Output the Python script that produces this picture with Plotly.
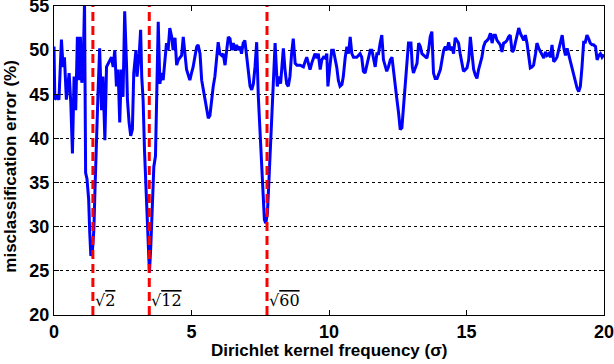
import plotly.graph_objects as go

# misclassification error vs Dirichlet kernel frequency
sigma = [
    0.00, 0.03, 0.11, 0.18, 0.27, 0.33, 0.38, 0.45, 0.55, 0.61, 0.67, 0.73, 0.79, 0.85, 0.91, 0.96,
    1.01, 1.06, 1.11, 1.15, 1.20, 1.26, 1.30, 1.34, 1.40, 1.45, 1.49, 1.54, 1.60, 1.66, 1.73, 1.78,
    1.85, 1.91, 1.97, 2.03, 2.09, 2.15, 2.21, 2.27, 2.33, 2.39, 2.45, 2.51, 2.57, 2.64, 2.67, 2.73,
    2.79, 2.85, 2.90, 2.98, 3.02, 3.10, 3.15, 3.19, 3.24, 3.29, 3.34, 3.39, 3.44, 3.47, 3.52, 3.57,
    3.63, 3.69, 3.75, 3.79, 3.85, 3.91, 3.97, 4.03, 4.09, 4.15, 4.21, 4.28, 4.33, 4.40, 4.46, 4.52,
    4.58, 4.64, 4.70, 4.76, 4.82, 4.88, 4.94, 5.00, 5.06, 5.12, 5.19, 5.24, 5.31, 5.37, 5.43, 5.49,
    5.55, 5.61, 5.67, 5.73, 5.79, 5.85, 5.91, 5.97, 6.03, 6.10, 6.15, 6.22, 6.28, 6.34, 6.40, 6.46,
    6.52, 6.58, 6.64, 6.70, 6.76, 6.82, 6.88, 6.94, 7.01, 7.07, 7.13, 7.19, 7.25, 7.31, 7.37, 7.43,
    7.49, 7.55, 7.61, 7.65, 7.70, 7.76, 7.82, 7.88, 7.94, 7.99, 8.04, 8.12, 8.19, 8.24, 8.34, 8.40,
    8.46, 8.52, 8.58, 8.64, 8.70, 8.77, 8.83, 8.95, 9.07, 9.13, 9.19, 9.25, 9.31, 9.37, 9.43, 9.49,
    9.56, 9.61, 9.68, 9.74, 9.80, 9.86, 9.92, 9.96, 10.02, 10.10, 10.16, 10.22, 10.28, 10.34, 10.40,
    10.47, 10.52, 10.59, 10.65, 10.71, 10.77, 10.83, 10.89, 11.01, 11.13, 11.19, 11.25, 11.31, 11.38,
    11.43, 11.50, 11.56, 11.62, 11.68, 11.74, 11.80, 11.86, 11.92, 11.98, 12.04, 12.10, 12.16, 12.23,
    12.29, 12.35, 12.41, 12.47, 12.53, 12.59, 12.65, 12.71, 12.77, 12.83, 12.89, 12.92, 12.98, 13.03,
    13.07, 13.14, 13.20, 13.26, 13.32, 13.38, 13.44, 13.50, 13.56, 13.62, 13.68, 13.74, 13.80, 13.86,
    13.93, 13.98, 14.05, 14.11, 14.17, 14.23, 14.29, 14.35, 14.41, 14.47, 14.53, 14.59, 14.65, 14.71,
    14.77, 14.84, 14.89, 14.96, 15.02, 15.08, 15.14, 15.20, 15.26, 15.32, 15.38, 15.44, 15.50, 15.56,
    15.62, 15.68, 15.75, 15.80, 15.87, 15.93, 15.99, 16.05, 16.11, 16.17, 16.23, 16.29, 16.35, 16.41,
    16.47, 16.53, 16.59, 16.66, 16.72, 16.78, 16.84, 16.90, 16.96, 17.02, 17.08, 17.14, 17.20, 17.26,
    17.32, 17.38, 17.44, 17.51, 17.56, 17.63, 17.69, 17.75, 17.81, 17.87, 17.93, 17.99, 18.05, 18.11,
    18.17, 18.23, 18.29, 18.35, 18.42, 18.48, 18.54, 18.60, 18.66, 18.72, 18.78, 18.84, 18.90, 18.96,
    19.02, 19.08, 19.14, 19.20, 19.26, 19.32, 19.38, 19.44, 19.50, 19.57, 19.62, 19.69, 19.75, 19.81,
    19.87, 19.93, 20.00,
]
error = [
    50.4, 44.4, 44.7, 44.4, 51.2, 48.1, 49.2, 44.4, 47.4, 44.1, 38.3, 47.0, 43.2, 51.5, 46.6, 51.5,
    46.3, 48.1, 55.5, 36.1, 35.4, 33.1, 29.3, 26.7, 27.4, 29.7, 34.2, 40.6, 45.1, 50.2, 43.2, 47.0,
    39.8, 48.1, 48.5, 48.9, 49.2, 48.1, 50.0, 45.9, 47.8, 41.8, 47.8, 44.7, 54.4, 48.1, 44.4, 41.8,
    40.3, 41.0, 47.4, 50.0, 47.0, 49.6, 52.3, 47.0, 44.4, 38.7, 35.0, 31.2, 27.1, 24.8, 27.8, 33.1,
    36.8, 38.0, 46.0, 53.2, 46.2, 47.4, 46.6, 49.2, 50.8, 50.0, 52.5, 51.5, 50.0, 51.4, 48.3, 48.9,
    49.1, 49.4, 51.5, 49.6, 47.8, 47.2, 46.6, 47.4, 48.1, 49.2, 50.4, 50.6, 49.6, 46.6, 45.5, 44.7,
    43.2, 42.3, 42.6, 44.4, 45.9, 47.0, 49.2, 50.9, 49.6, 49.4, 49.6, 48.3, 50.0, 51.5, 51.3, 50.0,
    50.8, 50.0, 50.6, 50.0, 50.4, 49.6, 50.8, 51.1, 49.2, 47.4, 45.9, 45.5, 46.2, 48.1, 50.9, 44.7,
    41.0, 38.3, 33.1, 30.8, 30.4, 31.5, 35.5, 40.0, 45.0, 49.0, 50.8, 45.9, 47.0, 46.2, 50.2, 47.8,
    46.2, 45.9, 47.0, 49.6, 51.3, 48.5, 48.3, 48.3, 48.1, 48.7, 49.2, 48.5, 47.8, 48.5, 49.2, 49.6,
    49.1, 49.6, 47.8, 48.9, 49.2, 49.1, 49.6, 45.9, 47.8, 50.0, 50.0, 49.2, 48.1, 46.6, 45.9,
    46.1, 47.0, 49.2, 50.4, 49.6, 51.5, 49.6, 49.2, 49.2, 49.6, 49.2, 47.6, 47.4, 48.5,
    49.2, 50.0, 50.0, 48.9, 48.1, 49.6, 49.6, 50.8, 51.7, 48.9, 48.1, 47.6, 48.1, 48.9,
    49.2, 47.4, 45.5, 44.4, 42.9, 41.0, 41.2, 43.6, 46.2, 48.9, 50.8, 50.8, 50.8, 48.1,
    47.4, 48.0, 48.5, 50.8, 50.4, 49.6, 49.4, 49.2, 49.1, 50.0, 51.5, 52.1, 47.4, 46.8,
    46.8, 47.2, 47.8, 48.9, 50.0, 50.4, 50.0, 50.9, 50.0, 50.4, 49.6, 51.4, 51.1, 50.8,
    49.6, 48.1, 47.6, 47.8, 48.0, 48.9, 51.5, 49.6, 47.8, 47.2, 46.8, 47.8, 48.5, 49.2,
    50.4, 50.9, 51.1, 51.3, 51.9, 50.8, 51.7, 51.7, 51.1, 50.8, 50.6, 49.8, 50.8, 50.9,
    51.1, 51.5, 51.7, 49.8, 50.0, 50.9, 51.9, 52.5, 51.9, 51.5, 51.1, 51.7, 50.8, 49.4,
    48.0, 48.1, 48.3, 49.6, 50.8, 50.2, 49.8, 49.4, 49.1, 49.8, 49.4, 49.6, 49.2, 50.6,
    48.7, 48.9, 49.2, 50.0, 50.9, 51.7, 50.2, 49.4, 50.2, 49.4, 48.7, 47.8, 47.0, 46.2,
    45.7, 45.3, 45.9, 48.1, 50.9, 50.9, 51.7, 51.3, 50.8, 50.6, 50.6, 50.4, 48.9, 49.4,
    49.6, 49.2, 49.5,
]

# frequencies marked by the dashed lines
marks = [2 ** 0.5, 12 ** 0.5, 60 ** 0.5]
mark_labels = ["2", "12", "60"]

fig = go.Figure()
fig.add_trace(go.Scatter(x=sigma, y=error, mode="lines",
                         line=dict(color="#0000ff", width=3), showlegend=False))

for m, lab in zip(marks, mark_labels):
    fig.add_shape(type="line", x0=m, x1=m, y0=20, y1=55, xref="x", yref="y",
                  line=dict(color="#ff0000", width=3, dash="9px,5px"))
    fig.add_annotation(x=m, y=21.6, xref="x", yref="y", xanchor="left", yanchor="middle",
                       xshift=0, showarrow=False,
                       text="√<span style='text-decoration:overline'>" + lab + "</span>",
                       font=dict(family="DejaVu Serif", size=16, color="black"))

tick_font = dict(family="Liberation Sans", size=18, color="black", weight="bold")
title_font = dict(family="Liberation Sans", size=17, color="black", weight="bold")

# axis titles as annotations so the plot area stays put
fig.add_annotation(text="Dirichlet kernel frequency (σ)", xref="paper", yref="paper",
                   x=0.5, y=0, yshift=-35, xanchor="center", yanchor="middle",
                   showarrow=False, font=title_font)
fig.add_annotation(text="misclassification error (%)", xref="paper", yref="paper",
                   x=0, y=0.48, xshift=-43, xanchor="center", yanchor="middle",
                   textangle=-90, showarrow=False, font=title_font)

fig.update_layout(
    width=614, height=364,
    margin=dict(l=54, r=10, t=6, b=49),
    paper_bgcolor="white", plot_bgcolor="white",
    xaxis=dict(range=[0, 20], tickvals=[0, 5, 10, 15, 20], ticks="inside", ticklen=5,
               tickcolor="black", showline=True, linecolor="black", linewidth=1, mirror="ticks",
               showgrid=False, zeroline=False, tickfont=tick_font, automargin=False,
               ticklabeloverflow="allow"),
    yaxis=dict(range=[20, 55], tickvals=[20, 25, 30, 35, 40, 45, 50, 55], ticks="inside",
               ticklen=5, tickcolor="black", showline=True, linecolor="black", linewidth=1,
               mirror="ticks", showgrid=True, gridcolor="black", griddash="dot", gridwidth=1,
               zeroline=False, tickfont=tick_font, automargin=False,
               ticklabeloverflow="allow"),
)

# page body has a default 8px margin; drop it so the figure sits at the corner
fig.write_html("out.html", config={"displayModeBar": False},
               post_script="document.body.style.margin='0';")
